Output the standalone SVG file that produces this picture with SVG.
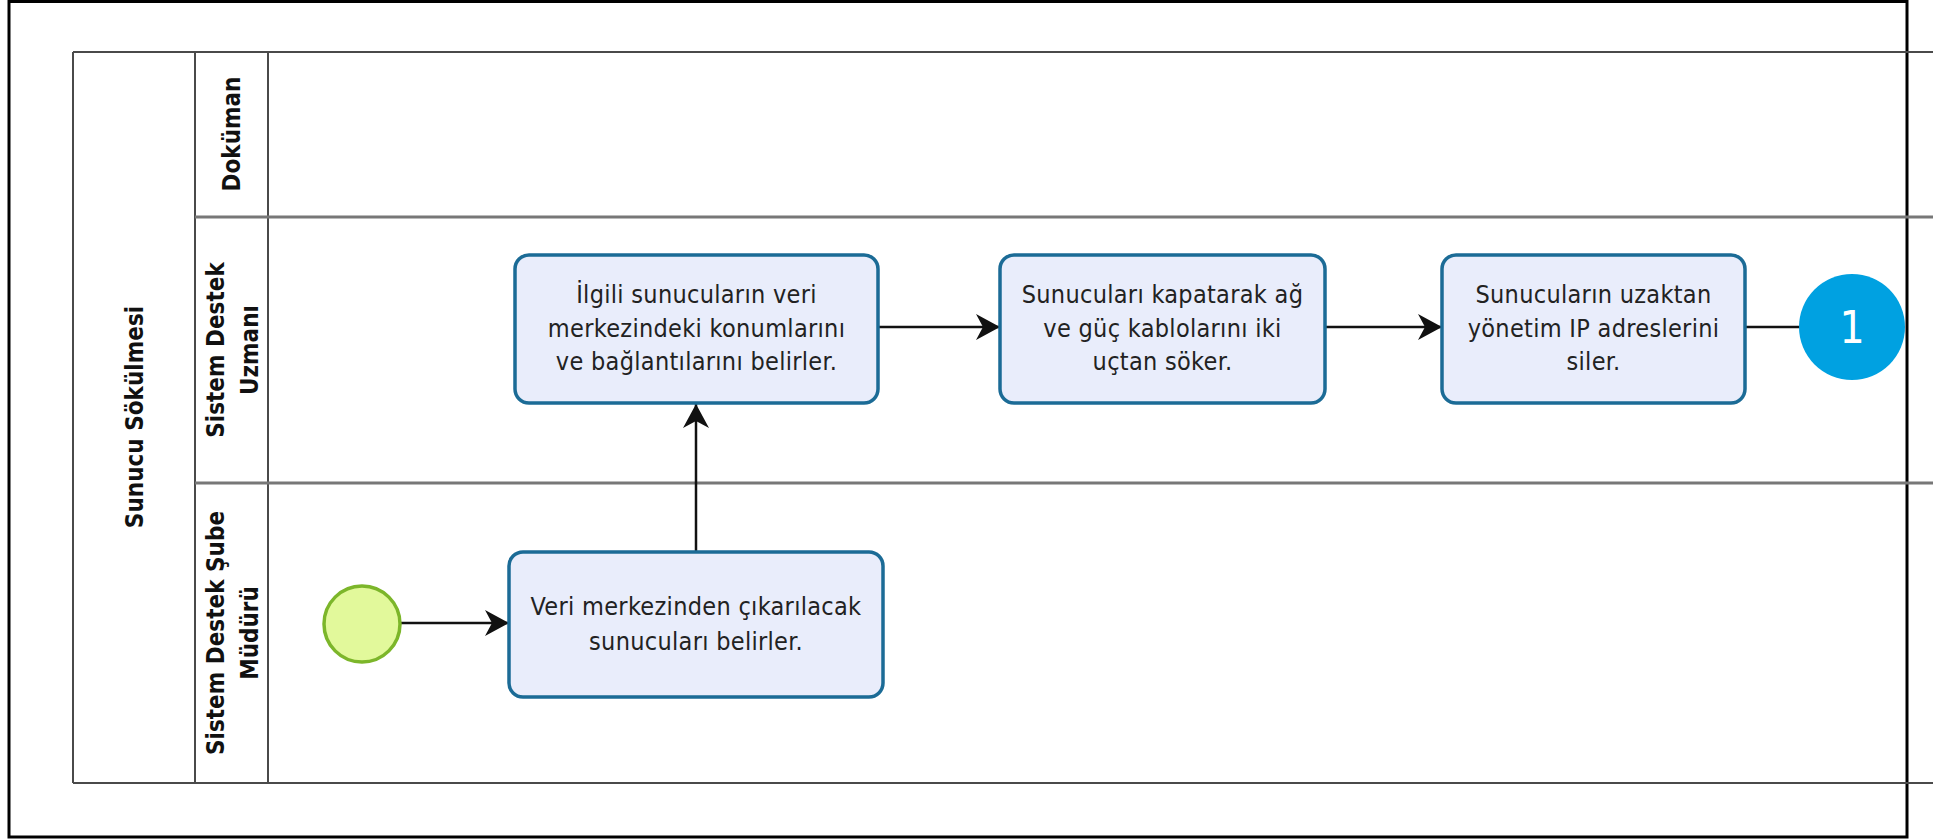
<svg xmlns="http://www.w3.org/2000/svg" width="1939" height="839" viewBox="0 0 1939 839">
<defs>
<style>
.pool{fill:none;stroke:#4a4a4a;stroke-width:2}
.lane{fill:none;stroke:#777;stroke-width:3}
.hdr{font-family:"DejaVu Sans Condensed","DejaVu Sans",sans-serif;font-stretch:condensed;font-weight:bold;font-size:24px;fill:#111;text-anchor:middle}
.task rect{fill:#e9edfb;stroke:#1b6b96;stroke-width:3.5}
.task text{font-family:"DejaVu Sans Condensed","DejaVu Sans",sans-serif;font-stretch:condensed;font-size:25px;letter-spacing:0.3px;fill:#222;text-anchor:middle}
.flow{fill:none;stroke:#111;stroke-width:2.5}
</style>
<marker id="arr" viewBox="-26 -14 28 28" refX="0" refY="0" markerWidth="28" markerHeight="28" markerUnits="userSpaceOnUse" orient="auto">
<path d="M0,0 L-24,-13 L-17,0 L-24,13 Z" fill="#111"/>
</marker>
</defs>
<rect x="0" y="0" width="1939" height="839" fill="#fff"/>
<rect x="9" y="1.5" width="1898" height="835.5" fill="none" stroke="#000" stroke-width="3"/>
<g id="pool">
<line class="pool" x1="73" y1="52" x2="1933" y2="52"/>
<line class="pool" x1="73" y1="783" x2="1933" y2="783"/>
<line class="pool" x1="73" y1="52" x2="73" y2="783"/>
<line class="pool" x1="195" y1="52" x2="195" y2="783"/>
<text class="hdr" transform="translate(143,417) rotate(-90)">Sunucu Sökülmesi</text>
</g>
<g id="lane-dokuman">
<line class="pool" x1="268" y1="52" x2="268" y2="783"/>
<line class="lane" x1="195" y1="217" x2="1933" y2="217"/>
<text class="hdr" transform="translate(240,134) rotate(-90)">Doküman</text>
</g>
<g id="lane-uzman">
<line class="lane" x1="195" y1="483" x2="1933" y2="483"/>
<text class="hdr" transform="translate(224,350) rotate(-90)">Sistem Destek</text>
<text class="hdr" transform="translate(258,350) rotate(-90)">Uzmanı</text>
</g>
<g id="lane-mudur">
<text class="hdr" transform="translate(224,633) rotate(-90)">Sistem Destek Şube</text>
<text class="hdr" transform="translate(258,633) rotate(-90)">Müdürü</text>
</g>
<g id="connectors">
<line class="flow" x1="400" y1="623" x2="509" y2="623" marker-end="url(#arr)"/>
<line class="flow" x1="696" y1="552" x2="696" y2="404" marker-end="url(#arr)"/>
<line class="flow" x1="878" y1="327" x2="1000" y2="327" marker-end="url(#arr)"/>
<line class="flow" x1="1325" y1="327" x2="1442" y2="327" marker-end="url(#arr)"/>
<line class="flow" x1="1745" y1="327" x2="1800" y2="327"/>
</g>
<g id="start">
<circle cx="362" cy="624" r="38" fill="#e2f99b" stroke="#7cb62a" stroke-width="3.5"/>
</g>
<g id="task4" class="task">
<rect x="509" y="552" width="374" height="145" rx="14"/>
<text x="696" y="615">Veri merkezinden çıkarılacak</text>
<text x="696" y="650">sunucuları belirler.</text>
</g>
<g id="task1" class="task">
<rect x="515" y="255" width="363" height="148" rx="14"/>
<text x="696.5" y="303">İlgili sunucuların veri</text>
<text x="696.5" y="337">merkezindeki konumlarını</text>
<text x="696.5" y="370">ve bağlantılarını belirler.</text>
</g>
<g id="task2" class="task">
<rect x="1000" y="255" width="325" height="148" rx="14"/>
<text x="1162.5" y="303">Sunucuları kapatarak ağ</text>
<text x="1162.5" y="337">ve güç kablolarını iki</text>
<text x="1162.5" y="370">uçtan söker.</text>
</g>
<g id="task3" class="task">
<rect x="1442" y="255" width="303" height="148" rx="14"/>
<text x="1593.5" y="303">Sunucuların uzaktan</text>
<text x="1593.5" y="337">yönetim IP adreslerini</text>
<text x="1593.5" y="370">siler.</text>
</g>
<g id="offpage">
<circle cx="1852" cy="327" r="53" fill="#00a1e1"/>
<text x="1852" y="343" font-family="DejaVu Sans Condensed,DejaVu Sans,sans-serif" font-stretch="condensed" font-size="44" fill="#fff" text-anchor="middle">1</text>
</g>
</svg>
